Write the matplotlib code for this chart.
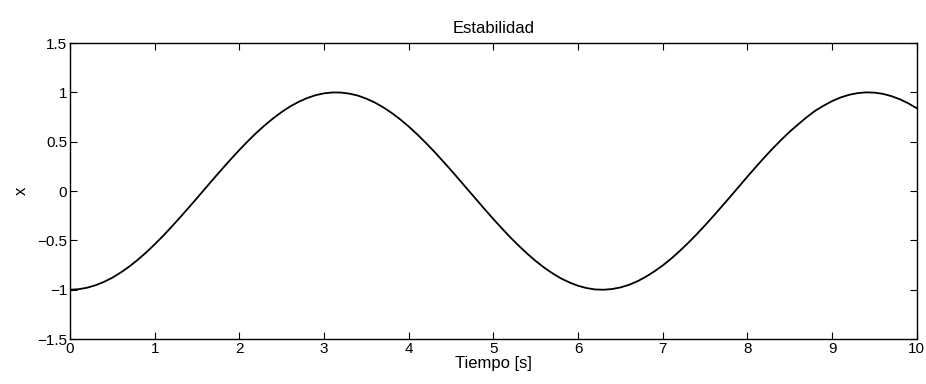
import numpy as np
import matplotlib.pyplot as plt

plt.rcParams['font.family'] = ['Liberation Sans', 'DejaVu Sans']

# response sampled every 0.1 s from 0 to 10 s
tiempo = np.linspace(0, 10, 101)
x = [-1.000, -0.995, -0.980, -0.955, -0.921, -0.878, -0.825, -0.765, -0.697, -0.622,
     -0.540, -0.454, -0.362, -0.267, -0.170, -0.071, 0.029, 0.129, 0.227, 0.323,
     0.416, 0.505, 0.589, 0.666, 0.737, 0.801, 0.857, 0.904, 0.942, 0.971,
     0.990, 0.999, 0.998, 0.987, 0.967, 0.936, 0.897, 0.848, 0.791, 0.726,
     0.654, 0.575, 0.490, 0.401, 0.307, 0.211, 0.112, 0.012, -0.087, -0.187,
     -0.284, -0.378, -0.469, -0.554, -0.635, -0.709, -0.776, -0.835, -0.886, -0.927,
     -0.960, -0.983, -0.997, -1.000, -0.993, -0.977, -0.951, -0.915, -0.869, -0.815,
     -0.754, -0.685, -0.608, -0.526, -0.439, -0.347, -0.252, -0.154, -0.055, 0.045,
     0.146, 0.244, 0.340, 0.432, 0.519, 0.602, 0.676, 0.748, 0.813, 0.865,
     0.911, 0.948, 0.975, 0.992, 1.000, 0.997, 0.985, 0.962, 0.930, 0.889,
     0.839]

xticks = [0, 1, 2, 3, 4, 5, 6, 7, 8, 9, 10]
yticks = [-1.5, -1, -0.5, 0, 0.5, 1, 1.5]
ylabels = ['\u22121.5', '\u22121', '\u22120.5', '0', '0.5', '1', '1.5']

fig = plt.figure(figsize=(9.26, 3.84), dpi=100)
ax = fig.add_axes([0.0756, 0.117, 0.9144, 0.771])

ax.plot(tiempo, x, color='black', linewidth=1.3)

ax.set_xlim(0, 10)
ax.set_ylim(-1.5, 1.5)
ax.set_xticks(xticks)
ax.set_yticks(yticks)
ax.set_yticklabels(ylabels)
ax.tick_params(direction='in', length=5, width=0.8, top=True, right=True,
               labelsize=11, pad=2)
for s in ax.spines.values():
    s.set_linewidth(1.0)

ax.set_title('Estabilidad', fontsize=12, pad=7)
ax.set_xlabel('Tiempo [s]', fontsize=12, labelpad=0)
ax.set_ylabel('x', fontsize=12, labelpad=6)

fig.savefig('out.png', dpi=100)
